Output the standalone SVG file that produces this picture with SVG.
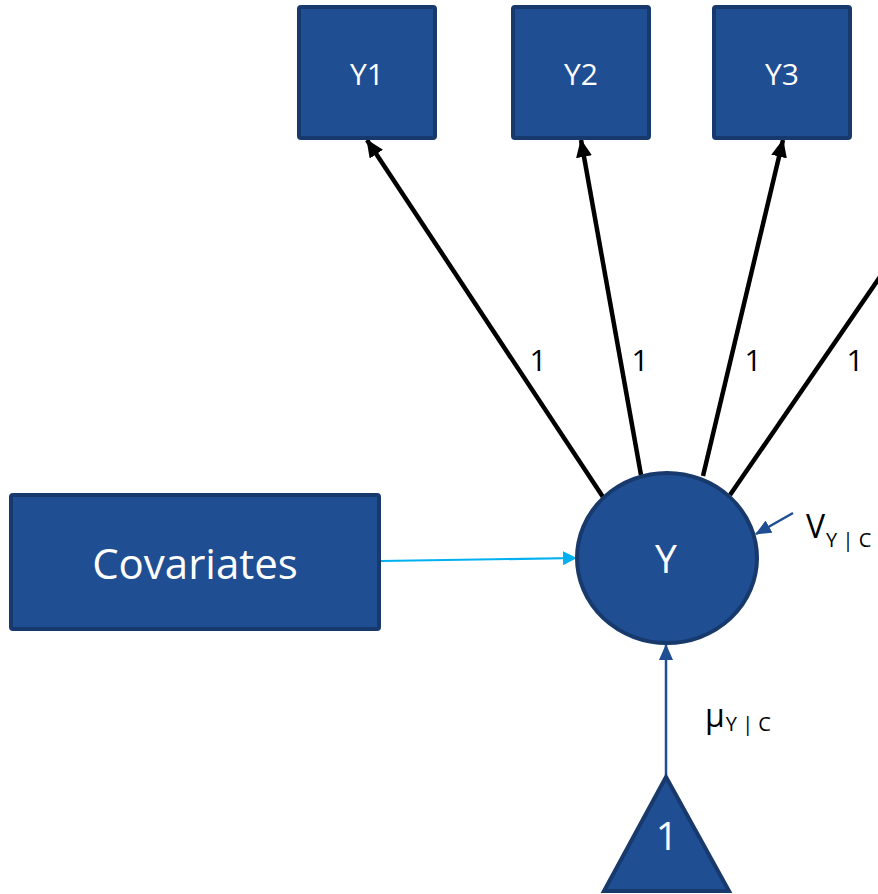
<svg xmlns="http://www.w3.org/2000/svg" width="878" height="894" viewBox="0 0 878 894">
<defs>
<style>
.node{fill:#1F4E93;stroke:#17396B;stroke-width:4}
.nt{fill:#ffffff;font-family:"Open Sans","Liberation Sans",sans-serif;text-anchor:middle}
.lbl{fill:#000000;font-family:"Open Sans","Liberation Sans",sans-serif}
.blk{stroke:#000000;stroke-width:4.5;fill:none}
.blu{stroke:#1F4E93;stroke-width:2.5;fill:none}
.cyn{stroke:#00B0F0;stroke-width:2.2;fill:none}
</style>
<marker id="ab" markerUnits="userSpaceOnUse" markerWidth="18" markerHeight="16" refX="17" refY="8" orient="auto"><path d="M0,0 L18,8 L0,16 Z" fill="#000000"/></marker>
<marker id="au" markerUnits="userSpaceOnUse" markerWidth="16" markerHeight="14" refX="15" refY="7" orient="auto"><path d="M0,0 L16,7 L0,14 Z" fill="#1F4E93"/></marker>
<marker id="ac" markerUnits="userSpaceOnUse" markerWidth="14" markerHeight="14" refX="13" refY="7" orient="auto"><path d="M0,0 L14,7 L0,14 Z" fill="#00B0F0"/></marker>
</defs>
<rect width="878" height="894" fill="#ffffff"/>
<g id="connectors">
<line class="blk" x1="603" y1="497" x2="367" y2="140" marker-end="url(#ab)"/>
<line class="blk" x1="641" y1="475" x2="581" y2="140" marker-end="url(#ab)"/>
<line class="blk" x1="703" y1="476" x2="783" y2="140" marker-end="url(#ab)"/>
<line class="blk" x1="730" y1="495" x2="974" y2="140" marker-end="url(#ab)"/>
<line class="cyn" x1="381" y1="561" x2="576" y2="558" marker-end="url(#ac)"/>
<line class="blu" x1="666" y1="775" x2="666" y2="645" marker-end="url(#au)"/>
<line class="blu" x1="793" y1="513" x2="756" y2="534" marker-end="url(#au)"/>
<text class="lbl" x="538" y="371" font-size="30" text-anchor="middle">1</text>
<text class="lbl" x="640" y="371" font-size="30" text-anchor="middle">1</text>
<text class="lbl" x="753" y="371" font-size="30" text-anchor="middle">1</text>
<text class="lbl" x="855" y="371" font-size="30" text-anchor="middle">1</text>
<text class="lbl" x="806" y="538" font-size="32">V<tspan font-size="20" dy="9" dx="1">Y | C</tspan></text>
<text class="lbl" x="705" y="727" font-size="32">μ<tspan font-size="20" dy="4" dx="1">Y | C</tspan></text>
</g>
<g id="Y1"><rect class="node" x="299" y="7" width="136" height="131" rx="2"/><text class="nt" x="367" y="85" font-size="30">Y1</text></g>
<g id="Y2"><rect class="node" x="513" y="7" width="136" height="131" rx="2"/><text class="nt" x="581" y="85" font-size="30">Y2</text></g>
<g id="Y3"><rect class="node" x="714" y="7" width="136" height="131" rx="2"/><text class="nt" x="782" y="85" font-size="30">Y3</text></g>
<g id="Covariates"><rect class="node" x="11" y="495" width="368" height="134" rx="2"/><text class="nt" x="195" y="579" font-size="42">Covariates</text></g>
<g id="Y"><ellipse class="node" cx="667" cy="558" rx="90" ry="85"/><text class="nt" x="666" y="573" font-size="39">Y</text></g>
<g id="one"><path class="node" d="M666,777 L604,891 L729,891 Z"/><text class="nt" x="667" y="850" font-size="39">1</text></g>
</svg>
